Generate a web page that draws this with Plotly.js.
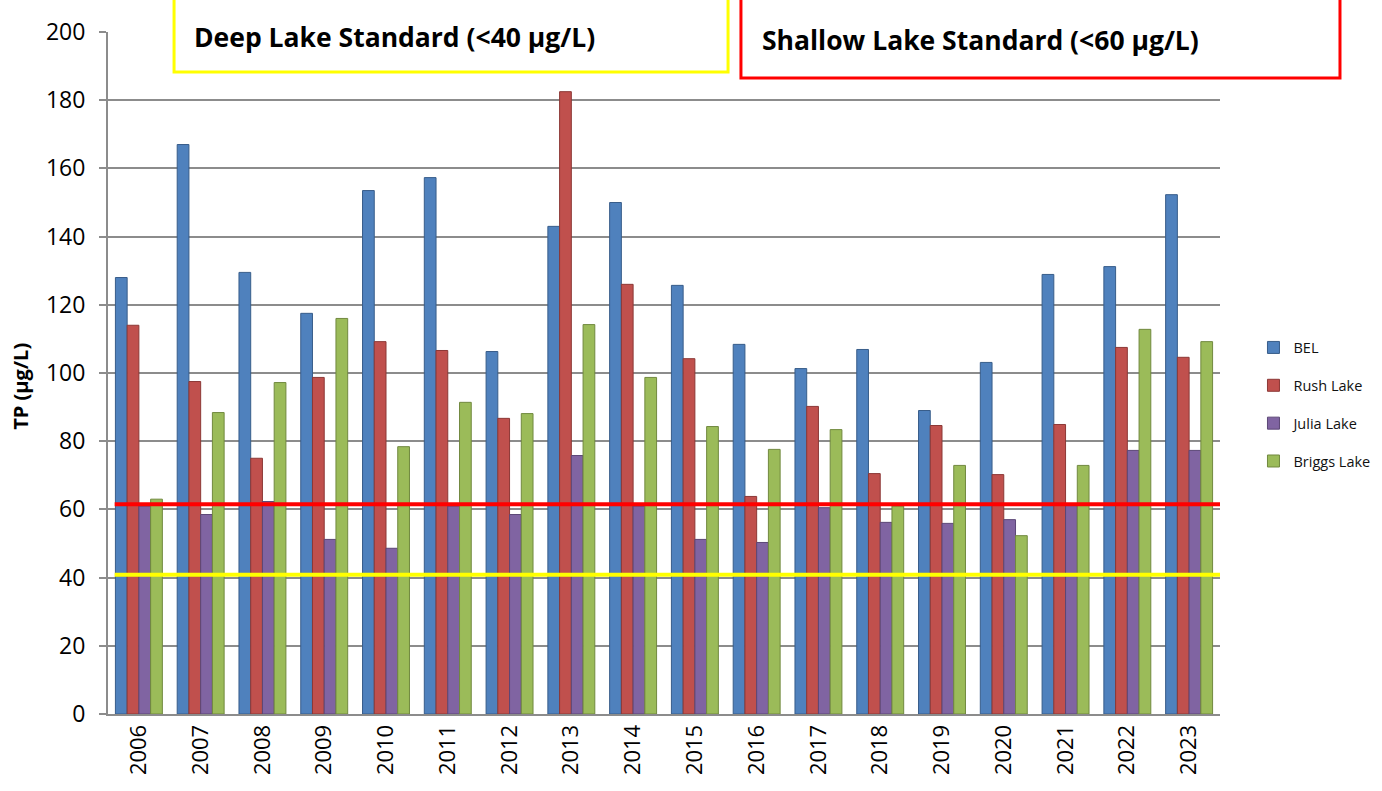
<!DOCTYPE html>
<html>
<head>
<meta charset="utf-8">
<script src="https://cdn.plot.ly/plotly-3.0.1.min.js"></script>
<style>html,body{margin:0;padding:0;background:#fff;}#chart{width:1382px;height:791px;}</style>
</head>
<body>
<div id="chart"></div>
<script>
const years = ['2006','2007','2008','2009','2010','2011','2012','2013','2014','2015','2016','2017','2018','2019','2020','2021','2022','2023'];
const bel    = [128, 167, 129.5, 117.5, 153.5, 157.3, 106.3, 143, 150, 125.7, 108.4, 101.3, 106.9, 89, 103.1, 128.9, 131.2, 152.3];
const rush   = [114, 97.5, 75, 98.7, 109.2, 106.6, 86.7, 182.5, 126, 104.2, 63.8, 90.2, 70.5, 84.6, 70.2, 84.9, 107.5, 104.6];
const julia  = [61, 58.5, 62.3, 51.2, 48.6, 61, 58.5, 75.8, 61, 51.2, 50.3, 60.5, 56.2, 55.9, 57, 61.7, 77.3, 77.3];
const briggs = [63, 88.4, 97.2, 116, 78.4, 91.4, 88.1, 114.2, 98.7, 84.3, 77.6, 83.4, 61, 72.9, 52.3, 72.9, 112.8, 109.2];
const seriesNames = ['BEL', 'Rush Lake', 'Julia Lake', 'Briggs Lake'];
const deepLabel = 'Deep Lake Standard (<40 µg/L)';
const shallowLabel = 'Shallow Lake Standard (<60 µg/L)';

const colors = ['#4F81BD', '#C0504D', '#8064A2', '#9BBB59'];
const edges  = ['#385D8A', '#8C3836', '#5C4776', '#71893F'];
const allVals = [bel, rush, julia, briggs];

const traces = allVals.map((v, i) => ({
  type: 'bar', x: years, y: v, name: seriesNames[i],
  legendgroup: 'g' + i,
  marker: {color: colors[i], line: {color: edges[i], width: 1}},
  hoverinfo: 'x+y+name'
}));

const font = '"Open Sans", "Noto Sans", "Liberation Sans", sans-serif';
const layout = {
  width: 1382, height: 791,
  margin: {l: 108, r: 162, t: 32, b: 77},
  paper_bgcolor: '#ffffff', plot_bgcolor: '#ffffff',
  barmode: 'group', bargap: 0.24, bargroupgap: 0,
  font: {family: font, color: '#000'},
  showlegend: true,
  legend: {xref: 'container', yref: 'container', x: 0.907, y: 0.4886,
           xanchor: 'left', yanchor: 'middle',
           traceorder: 'grouped', tracegroupgap: 16,
           font: {size: 14.5, family: font, color: '#111'}, itemwidth: 30},
  xaxis: {type: 'category', tickangle: -90, tickfont: {size: 22, family: font},
          showline: true, linecolor: '#8c8c8c', linewidth: 2,
          ticks: '', showgrid: false},
  yaxis: {range: [0, 200], dtick: 20, tick0: 0,
          tickfont: {size: 23, family: font},
          showline: true, linecolor: '#8c8c8c', linewidth: 2,
          ticks: 'outside', ticklen: 7, tickcolor: '#8c8c8c', tickwidth: 2,
          ticklabelstandoff: 9,
          showgrid: true, gridcolor: '#8c8c8c', gridwidth: 2, zeroline: false},
  shapes: [
    {type: 'line', xref: 'paper', yref: 'y', x0: 0.006, x1: 1.0, y0: 40.8, y1: 40.8,
     line: {color: '#FFFF00', width: 4}},
    {type: 'line', xref: 'paper', yref: 'y', x0: 0.006, x1: 1.0, y0: 61.5, y1: 61.5,
     line: {color: '#FF0000', width: 4}},
    {type: 'rect', xref: 'paper', yref: 'paper', x0: 0.0594, x1: 0.5576, y0: 0.9413, y1: 1.06,
     line: {color: '#FFFF00', width: 3}, fillcolor: '#ffffff'},
    {type: 'rect', xref: 'paper', yref: 'paper', x0: 0.5692, x1: 1.1079, y0: 0.9326, y1: 1.06,
     line: {color: '#FF0000', width: 3}, fillcolor: '#ffffff'}
  ],
  annotations: [
    {text: '<b>' + deepLabel + '</b>', xref: 'paper', yref: 'paper', x: 0.0755, y: 0.9927,
     xanchor: 'left', yanchor: 'middle', showarrow: false, font: {size: 26.5, family: font, color: '#000'}},
    {text: '<b>' + shallowLabel + '</b>', xref: 'paper', yref: 'paper', x: 0.586, y: 0.9883,
     xanchor: 'left', yanchor: 'middle', showarrow: false, font: {size: 26.5, family: font, color: '#000'}},
    {text: '<b>TP (µg/L)</b>', xref: 'paper', yref: 'paper', x: -0.079, y: 0.48,
     xanchor: 'center', yanchor: 'middle', textangle: -90, showarrow: false,
     font: {size: 20, family: font, color: '#000'}}
  ]
};

Plotly.newPlot('chart', traces, layout, {displayModeBar: false, staticPlot: true});
</script>
</body>
</html>
